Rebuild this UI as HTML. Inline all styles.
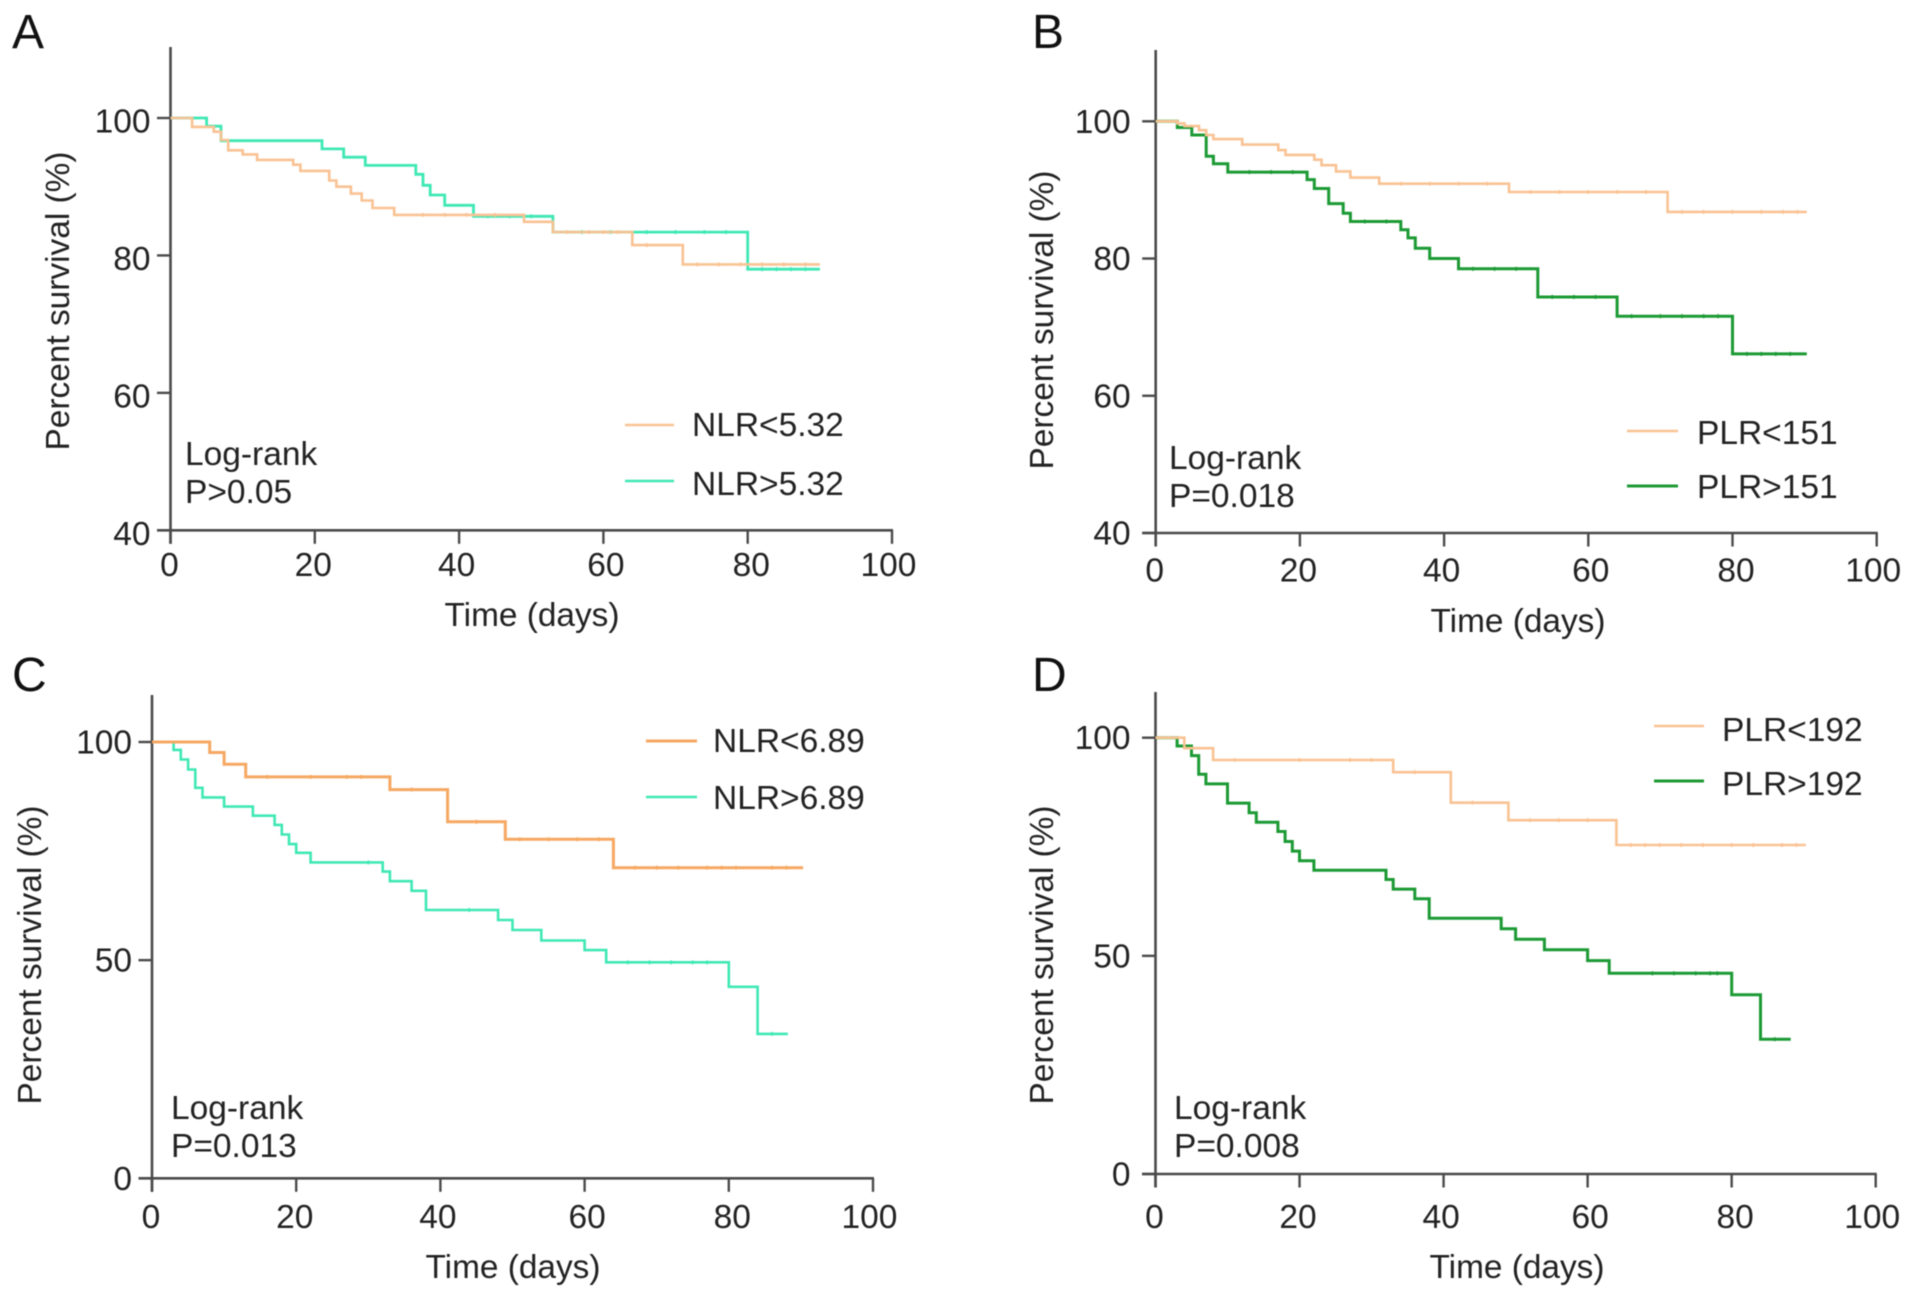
<!DOCTYPE html>
<html lang="en">
<head>
<meta charset="utf-8">
<title>Survival curves by NLR and PLR</title>
<style>
html,body{margin:0;padding:0;background:#fff;}
svg{display:block;filter:blur(0.55px);}
text{font-family:"Liberation Sans",Arial,sans-serif;fill:#222;font-size:33.5px;}
.letter{font-size:48px;fill:#111;}
</style>
</head>
<body>
<svg id="chart" xmlns="http://www.w3.org/2000/svg" width="1913" height="1299" viewBox="0 0 1913 1299">
<rect x="0" y="0" width="1913" height="1299" fill="#fff"/>

<g id="panel-a">
  <text class="letter" x="12" y="48">A</text>
  <text transform="translate(69,301) rotate(-90)" text-anchor="middle" textLength="299" lengthAdjust="spacingAndGlyphs">Percent survival (%)</text>
  <text x="532" y="626" text-anchor="middle" textLength="175" lengthAdjust="spacingAndGlyphs">Time (days)</text>
  <text x="185" y="465">Log-rank</text>
  <text x="185" y="503">P&gt;0.05</text>
  <text x="692" y="436">NLR&lt;5.32</text>
  <text x="692" y="495">NLR&gt;5.32</text>
  <line x1="625" x2="674" y1="425" y2="425" stroke="#f9c293" stroke-width="2.6"/>
  <line x1="625" x2="674" y1="481" y2="481" stroke="#3fe8b4" stroke-width="2.6"/>
</g>

<g id="panel-b">
  <text class="letter" x="1032" y="48">B</text>
  <text transform="translate(1053,320) rotate(-90)" text-anchor="middle" textLength="299" lengthAdjust="spacingAndGlyphs">Percent survival (%)</text>
  <text x="1518" y="632" text-anchor="middle" textLength="175" lengthAdjust="spacingAndGlyphs">Time (days)</text>
  <text x="1169" y="469">Log-rank</text>
  <text x="1169" y="507">P=0.018</text>
  <text x="1697" y="444">PLR&lt;151</text>
  <text x="1697" y="498">PLR&gt;151</text>
  <line x1="1627" x2="1678" y1="431" y2="431" stroke="#f9c293" stroke-width="2.6"/>
  <line x1="1627" x2="1678" y1="486" y2="486" stroke="#1c9a34" stroke-width="3"/>
</g>

<g id="panel-c">
  <text class="letter" x="12" y="691">C</text>
  <text transform="translate(41,955) rotate(-90)" text-anchor="middle" textLength="299" lengthAdjust="spacingAndGlyphs">Percent survival (%)</text>
  <text x="513" y="1278" text-anchor="middle" textLength="175" lengthAdjust="spacingAndGlyphs">Time (days)</text>
  <text x="171" y="1119">Log-rank</text>
  <text x="171" y="1157">P=0.013</text>
  <text x="713" y="752">NLR&lt;6.89</text>
  <text x="713" y="809">NLR&gt;6.89</text>
  <line x1="646" x2="697" y1="741" y2="741" stroke="#f6a862" stroke-width="3"/>
  <line x1="646" x2="697" y1="797" y2="797" stroke="#3fe8b4" stroke-width="2.6"/>
</g>

<g id="panel-d">
  <text class="letter" x="1032" y="691">D</text>
  <text transform="translate(1053,955) rotate(-90)" text-anchor="middle" textLength="299" lengthAdjust="spacingAndGlyphs">Percent survival (%)</text>
  <text x="1517" y="1278" text-anchor="middle" textLength="175" lengthAdjust="spacingAndGlyphs">Time (days)</text>
  <text x="1174" y="1119">Log-rank</text>
  <text x="1174" y="1157">P=0.008</text>
  <text x="1722" y="741">PLR&lt;192</text>
  <text x="1722" y="795">PLR&gt;192</text>
  <line x1="1654" x2="1704" y1="726" y2="726" stroke="#f9c293" stroke-width="2.6"/>
  <line x1="1654" x2="1704" y1="781" y2="781" stroke="#1c9a34" stroke-width="3"/>
</g>
</svg>

<script>
// Tick labels
var xTickValues = [0, 20, 40, 60, 80, 100];
var yTicksUpper = [40, 60, 80, 100];
var yTicksLower = [0, 50, 100];

// Panel A
var aLowDays = [0, 3, 6, 7, 8, 10, 12, 17, 18, 22, 23, 25, 26.5, 28, 31, 49, 53, 64, 71, 90];
var aLowSurv = [100, 98.7, 98, 96.8, 95.3, 94.7, 93.9, 93.2, 92.3, 90.9, 90, 89, 88, 86.9, 85.9, 84.9, 83.4, 81.5, 78.7, 78.7];
var aHighDays = [0, 5, 7, 21, 24, 27, 34, 35, 36, 38, 42, 53, 80, 90];
var aHighSurv = [100, 98.8, 96.7, 95.5, 94.3, 93.1, 91.8, 90.2, 88.8, 87.3, 85.7, 83.4, 78, 78];
var aLowCensored = [35, 38, 41, 45, 55, 58, 60, 62, 66, 73, 76, 79, 82, 85, 88];
var aHighCensored = [44, 47, 50, 57, 61, 66, 70, 74, 77, 82, 84, 86, 88];

// Panel B
var bLowDays = [0, 3, 4, 6, 7, 8, 12, 17, 18, 22, 23, 25, 27, 31, 49, 71, 90.3];
var bLowSurv = [100, 99.7, 99.3, 98.7, 98, 97.4, 96.6, 95.8, 95.1, 94.4, 93.6, 92.7, 91.8, 90.9, 89.7, 86.8, 86.8];
var bHighDays = [0, 3, 5, 7, 8, 10, 21, 22, 24, 26, 27, 34, 35, 36, 38, 42, 53, 64, 80, 90.3];
var bHighSurv = [100, 99.1, 98, 94.9, 93.8, 92.6, 91.5, 90.2, 88, 86.6, 85.4, 84.2, 83, 81.5, 80, 78.5, 74.4, 71.6, 66.1, 66.1];
var bLowCensored = [34, 38, 42, 46, 52, 56, 60, 64, 68, 73, 76, 80, 84, 87, 89];
var bHighCensored = [13, 16, 19, 29, 32, 44, 47, 50, 55, 58, 61, 66, 70, 73, 76, 78, 82, 84, 86, 88];

// Panel C
var cLowDays = [0, 8, 10, 13, 33, 41, 49, 64, 90.3];
var cLowSurv = [100, 97.6, 94.9, 92, 89.1, 81.7, 77.7, 71.2, 71.2];
var cHighDays = [0, 3, 4, 5, 6, 7, 10, 14, 17, 18, 19, 20, 22, 32, 33, 36, 38, 48, 50, 54, 60, 63, 80, 84, 88.2];
var cHighSurv = [100, 98.2, 96, 93.7, 89.5, 87.3, 85.2, 83.1, 81, 78.8, 76.6, 74.6, 72.4, 70.3, 68.1, 65.9, 61.5, 59.2, 56.9, 54.5, 52.3, 49.5, 43.9, 33.1, 33.1];
var cLowCensored = [16, 22, 27, 29, 36, 45, 51, 55, 59, 62, 67, 70, 73, 77, 79, 81, 86, 88];
var cHighCensored = [30, 44, 66, 69, 72, 75, 77, 86];

// Panel D
var dLowDays = [0, 4, 8, 33, 41, 49, 64, 90.3];
var dLowSurv = [100, 97.6, 94.9, 92.1, 85.1, 81.1, 75.4, 75.4];
var dHighDays = [0, 3, 5, 6, 7, 10, 13, 14, 17, 18, 19, 20, 22, 32, 33, 36, 38, 48, 50, 54, 60, 63, 80, 84, 88.2];
var dHighSurv = [100, 98.1, 95.9, 91.6, 89.4, 85, 82.8, 80.6, 78.5, 76.2, 74, 71.8, 69.6, 67.5, 65.3, 63.1, 58.6, 56.2, 53.8, 51.4, 48.9, 46, 41.1, 30.9, 30.9];
var dLowCensored = [11, 20, 27, 30, 36, 44, 52, 56, 60, 66, 68, 70, 73, 76, 80, 83, 87, 89];
var dHighCensored = [69, 72, 75, 77, 78, 86];

var SVG_NS = 'http://www.w3.org/2000/svg';
var ORANGE = '#f9c293', ORANGE_STRONG = '#f6a862', TEAL = '#3fe8b4', GREEN = '#1c9a34', AXIS = '#4a4a4a';

function makeAxes(x0, x100, yMinPx, yMaxPx, yMin, yMax) {
  return {
    x: function (d) { return x0 + (x100 - x0) * d / 100; },
    y: function (v) { return yMinPx + (yMaxPx - yMinPx) * (v - yMin) / (yMax - yMin); }
  };
}

function addLine(parent, x1, y1, x2, y2, color, width, name) {
  var el = document.createElementNS(SVG_NS, 'line');
  el.setAttribute('x1', x1);
  el.setAttribute('y1', y1);
  el.setAttribute('x2', x2);
  el.setAttribute('y2', y2);
  el.setAttribute('stroke', color);
  el.setAttribute('stroke-width', width);
  
  
  parent.appendChild(el);
}

function addLabel(parent, x, y, anchor, content, name) {
  var el = document.createElementNS(SVG_NS, 'text');
  el.setAttribute('x', x);
  el.setAttribute('y', y);
  el.setAttribute('text-anchor', anchor);
  
  
  el.textContent = content;
  parent.appendChild(el);
}

// Horizontal label placement quirk of the original figure, by tick index.
function xLabelShift(index) {
  if (index === 0) return -1;
  if (index === 1) return -1.5;
  if (index === 2) return -2.5;
  if (index === 3) return 2.5;
  if (index === 4) return 3.5;
  return -3.5;
}

function drawAxes(parent, ax, yTicks, topPx, opts) {
  var x0 = ax.x(0), yBase = ax.y(yTicks[0]);
  addLine(parent, x0, topPx, x0, yBase + 13.5, AXIS, 2.6, 'y-axis-line');
  addLine(parent, x0 - 13.5, yBase, ax.x(100) + 1, yBase, AXIS, 2.6, 'x-axis-line');
  yTicks.forEach(function (v) {
    var y = ax.y(v);
    addLine(parent, x0 - 13.5, y, x0, y, AXIS, 2.4, 'y-tick');
    addLabel(parent, x0 - opts.yLabelGap, y + opts.yLabelDy, 'end', String(v), 'y-tick-label');
  });
  xTickValues.forEach(function (d, i) {
    var x = ax.x(d);
    addLine(parent, x, yBase, x, yBase + 13.5, AXIS, 2.4, 'x-tick');
    addLabel(parent, x + xLabelShift(i), opts.xLabelY, 'middle', String(d), 'x-tick-label');
  });
}

function survivalAt(days, surv, t) {
  var v = surv[0];
  for (var i = 0; i < days.length; i++) {
    if (days[i] <= t) v = surv[i];
  }
  return v;
}

function drawCurve(parent, ax, days, surv, censored, color, width, name) {
  var d = 'M' + ax.x(days[0]).toFixed(1) + ' ' + ax.y(surv[0]).toFixed(1);
  for (var i = 1; i < days.length; i++) {
    d += 'H' + ax.x(days[i]).toFixed(1) + 'V' + ax.y(surv[i]).toFixed(1);
  }
  var path = document.createElementNS(SVG_NS, 'path');
  path.setAttribute('d', d);
  path.setAttribute('fill', 'none');
  path.setAttribute('stroke', color);
  path.setAttribute('stroke-width', width);
  path.setAttribute('stroke-linejoin', 'miter');
  
  
  parent.appendChild(path);
  censored.forEach(function (t) {
    var x = ax.x(t), y = ax.y(survivalAt(days, surv, t));
    addLine(parent, x, y - 2, x, y + 2, color, 1.6, name + '-censor-mark');
  });
}

var axesA = makeAxes(170.5, 892, 530.3, 118, 40, 100);
var axesB = makeAxes(1155.7, 1876.7, 533, 121.3, 40, 100);
var axesC = makeAxes(152, 873, 1178.3, 742, 0, 100);
var axesD = makeAxes(1155.5, 1875.7, 1174, 737.7, 0, 100);

var gA = document.getElementById('panel-a');
var gB = document.getElementById('panel-b');
var gC = document.getElementById('panel-c');
var gD = document.getElementById('panel-d');

drawAxes(gA, axesA, yTicksUpper, 47, { yLabelGap: 20, yLabelDy: 14.5, xLabelY: 576 });
drawAxes(gB, axesB, yTicksUpper, 50, { yLabelGap: 25, yLabelDy: 11.5, xLabelY: 581.5 });
drawAxes(gC, axesC, yTicksLower, 695, { yLabelGap: 20, yLabelDy: 11.5, xLabelY: 1228 });
drawAxes(gD, axesD, yTicksLower, 692, { yLabelGap: 25, yLabelDy: 11.5, xLabelY: 1228 });

drawCurve(gA, axesA, aHighDays, aHighSurv, aHighCensored, TEAL, 2.8, 'panel-a-curve-nlr-high');
drawCurve(gA, axesA, aLowDays, aLowSurv, aLowCensored, ORANGE, 2.6, 'panel-a-curve-nlr-low');
drawCurve(gB, axesB, bHighDays, bHighSurv, bHighCensored, GREEN, 3, 'panel-b-curve-plr-high');
drawCurve(gB, axesB, bLowDays, bLowSurv, bLowCensored, ORANGE, 2.6, 'panel-b-curve-plr-low');
drawCurve(gC, axesC, cHighDays, cHighSurv, cHighCensored, TEAL, 2.6, 'panel-c-curve-nlr-high');
drawCurve(gC, axesC, cLowDays, cLowSurv, cLowCensored, ORANGE_STRONG, 3, 'panel-c-curve-nlr-low');
drawCurve(gD, axesD, dHighDays, dHighSurv, dHighCensored, GREEN, 3, 'panel-d-curve-plr-high');
drawCurve(gD, axesD, dLowDays, dLowSurv, dLowCensored, ORANGE, 2.6, 'panel-d-curve-plr-low');
</script>
</body>
</html>
